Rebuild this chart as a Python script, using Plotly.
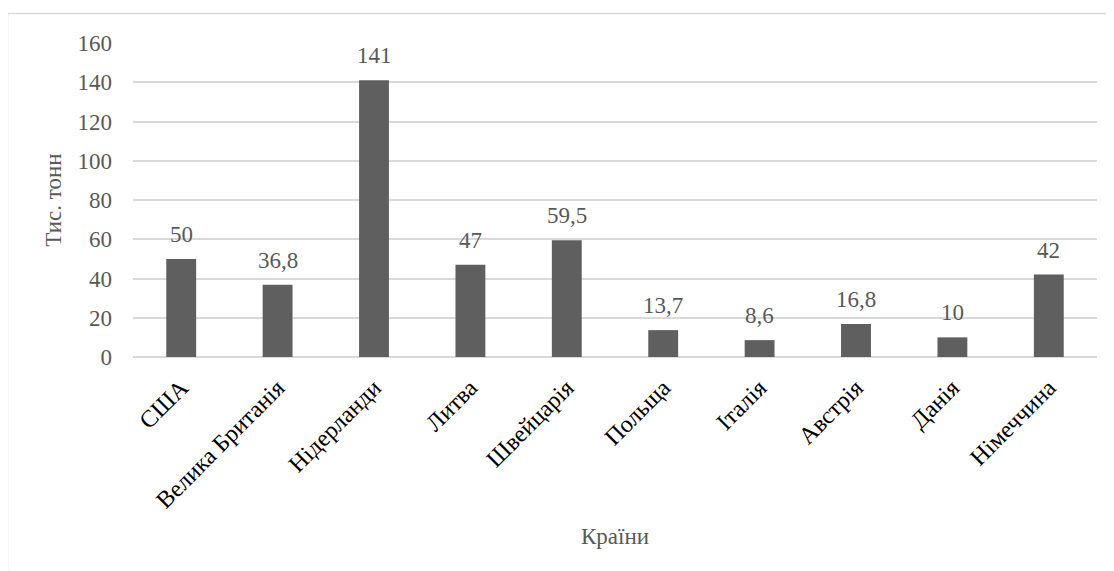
import plotly.graph_objects as go

countries = ["США", "Велика Британія", "Нідерланди", "Литва", "Швейцарія",
             "Польща", "Італія", "Австрія", "Данія", "Німеччина"]
values = [50, 36.8, 141, 47, 59.5, 13.7, 8.6, 16.8, 10, 42]
y_ticks = [0, 20, 40, 60, 80, 100, 120, 140, 160]

labels = [(str(v) if v % 1 else str(int(v))).replace(".", ",") for v in values]

FONT = "Liberation Serif, Times New Roman, serif"
GRAY = "#595959"
FS = 23

fig = go.Figure()
fig.add_trace(go.Bar(
    x=countries, y=values,
    marker=dict(color="#5f5f5f", line=dict(width=0)),
    width=0.31,
    hoverinfo="skip",
))

for c, v, t in zip(countries, values, labels):
    fig.add_annotation(x=c, y=v, text=t, showarrow=False, xref="x", yref="y",
                       yanchor="bottom", yshift=10,
                       font=dict(family=FONT, size=FS, color=GRAY))

OFF = 8  # page body margin
W, H = 1114, 571
L, R, T, B = 133 - OFF, 1114 - 1097 + OFF, 43 - OFF, 571 - 357 + OFF
pw, ph = W - L - R, H - T - B
def px(x):
    return (x - OFF - L) / pw
def py(y):
    return (H - B - (y - OFF)) / ph

border = dict(color="#d9d9d9", width=1.5)
fig.add_shape(type="line", xref="paper", yref="paper",
              x0=px(7.5), x1=px(1130), y0=py(13.5), y1=py(13.5), line=border)
fig.add_shape(type="line", xref="paper", yref="paper",
              x0=px(7.5), x1=px(7.5), y0=py(13.5), y1=py(590), line=border)

fig.update_layout(
    width=W, height=H,
    margin=dict(l=L, r=R, t=T, b=B, autoexpand=False),
    paper_bgcolor="white", plot_bgcolor="white",
    showlegend=False,
    bargap=0.69,
    font=dict(family=FONT, color=GRAY),
    xaxis=dict(
        tickangle=-45,
        tickfont=dict(family=FONT, size=24, color="black"),
        showgrid=False, zeroline=False,
        showline=False,
        ticks="", ticklabelstandoff=11,
        title=dict(text="Країни", font=dict(family=FONT, size=FS, color=GRAY), standoff=15),
        automargin=False,
    ),
    yaxis=dict(
        range=[0, 160], tickvals=y_ticks,
        tickfont=dict(family=FONT, size=FS, color=GRAY),
        showgrid=True, gridcolor="#d9d9d9", gridwidth=1.5,
        zeroline=True, zerolinecolor="#d9d9d9", zerolinewidth=1.5,
        showline=False, ticks="", ticklabelstandoff=20,
        title=dict(text="Тис. тонн", font=dict(family=FONT, size=FS, color=GRAY), standoff=9),
        automargin=False,
    ),
)

fig.write_html("out.html")
